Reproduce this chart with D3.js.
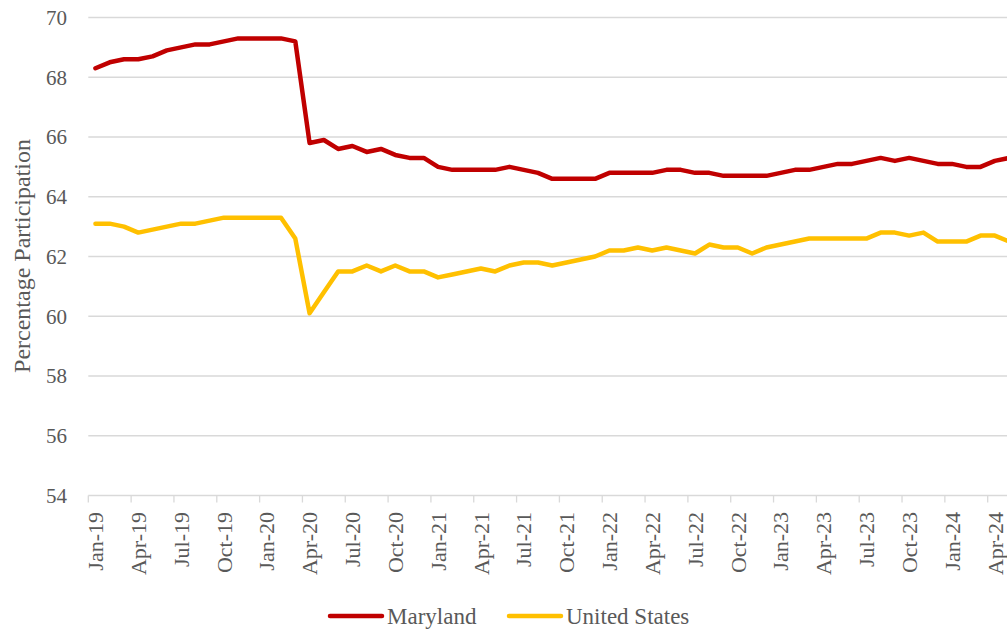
<!DOCTYPE html>
<html><head><meta charset="utf-8">
<script src="https://cdn.jsdelivr.net/npm/d3@7"></script>
<style>body{margin:0;background:#fff}svg{display:block}</style>
</head><body><svg id="c" width="1007" height="630" font-family="'Liberation Serif', 'Times New Roman', serif"></svg>
<script>
const months = ["Jan","Feb","Mar","Apr","May","Jun","Jul","Aug","Sep","Oct","Nov","Dec"];
const categories = [];
for (let y = 19; y <= 24; y++) for (let m = 0; m < 12; m++) { if (y === 24 && m > 4) break; categories.push(months[m] + "-" + y); }
const maryland = [68.3,68.5,68.6,68.6,68.7,68.9,69.0,69.1,69.1,69.2,69.3,69.3,69.3,69.3,69.2,65.8,65.9,65.6,65.7,65.5,65.6,65.4,65.3,65.3,65.0,64.9,64.9,64.9,64.9,65.0,64.9,64.8,64.6,64.6,64.6,64.6,64.8,64.8,64.8,64.8,64.9,64.9,64.8,64.8,64.7,64.7,64.7,64.7,64.8,64.9,64.9,65.0,65.1,65.1,65.2,65.3,65.2,65.3,65.2,65.1,65.1,65.0,65.0,65.2,65.3];
const unitedStates = [63.1,63.1,63.0,62.8,62.9,63.0,63.1,63.1,63.2,63.3,63.3,63.3,63.3,63.3,62.6,60.1,60.8,61.5,61.5,61.7,61.5,61.7,61.5,61.5,61.3,61.4,61.5,61.6,61.5,61.7,61.8,61.8,61.7,61.8,61.9,62.0,62.2,62.2,62.3,62.2,62.3,62.2,62.1,62.4,62.3,62.3,62.1,62.3,62.4,62.5,62.6,62.6,62.6,62.6,62.6,62.8,62.8,62.7,62.8,62.5,62.5,62.5,62.7,62.7,62.5];
const yTicks = [54,56,58,60,62,64,66,68,70];
const seriesNames = ["Maryland","United States"];
const seriesColors = ["#C00000","#FFC000"];

const svg = d3.select("#c");
const textColor = "#595959";
const left = 88.3, step = 14.276;
const x = d3.scaleBand().domain(categories).range([left, left + categories.length * step]).padding(0);
const y = d3.scaleLinear().domain([54,70]).range([495.5, 17.5]);
const cx = c => x(c) + x.bandwidth()/2;

svg.append("g").selectAll("line").data(yTicks.filter(t => t > 54)).join("line")
  .attr("x1", left).attr("x2", 1007).attr("y1", d => y(d)).attr("y2", d => y(d))
  .attr("stroke", "#d9d9d9").attr("stroke-width", 1.3);

svg.append("g").selectAll("text").data(yTicks).join("text")
  .attr("x", 67).attr("y", d => y(d)).attr("dy", "0.35em").attr("text-anchor", "end")
  .attr("fill", textColor).attr("font-size", 21).text(d => d);

svg.append("line").attr("x1", left).attr("x2", 1007).attr("y1", y(54)).attr("y2", y(54))
  .attr("stroke", "#d9d9d9").attr("stroke-width", 1.3);
const tickCats = categories.filter((c, i) => i % 3 === 0);
svg.append("g").selectAll("line").data(tickCats).join("line")
  .attr("x1", d => x(d)).attr("x2", d => x(d)).attr("y1", y(54)).attr("y2", y(54) + 7)
  .attr("stroke", "#d9d9d9").attr("stroke-width", 1.3);
svg.append("g").selectAll("text").data(tickCats).join("text")
  .attr("transform", d => `translate(${cx(d)},512) rotate(-90)`)
  .attr("text-anchor", "end").attr("dy", "0.35em").attr("fill", textColor).attr("font-size", 22).text(d => d);

svg.append("text").attr("transform", "translate(22,256) rotate(-90)").attr("text-anchor", "middle")
  .attr("dy", "0.35em").attr("fill", textColor).attr("font-size", 24).text("Percentage Participation");

const line = d3.line().x((d, i) => cx(categories[i])).y(d => y(d));
[maryland, unitedStates].forEach((s, k) => {
  svg.append("path").datum(s).attr("d", line).attr("fill", "none")
    .attr("stroke", seriesColors[k]).attr("stroke-width", 4.5)
    .attr("stroke-linejoin", "round").attr("stroke-linecap", "round");
});

const legX = [330, 509];
seriesNames.forEach((n, k) => {
  svg.append("line").attr("x1", legX[k]).attr("x2", legX[k] + 52).attr("y1", 616).attr("y2", 616)
    .attr("stroke", seriesColors[k]).attr("stroke-width", 4.5).attr("stroke-linecap", "round");
  svg.append("text").attr("x", legX[k] + 57).attr("y", 616).attr("dy", "0.35em")
    .attr("fill", textColor).attr("font-size", 23).text(n);
});
</script></body></html>
